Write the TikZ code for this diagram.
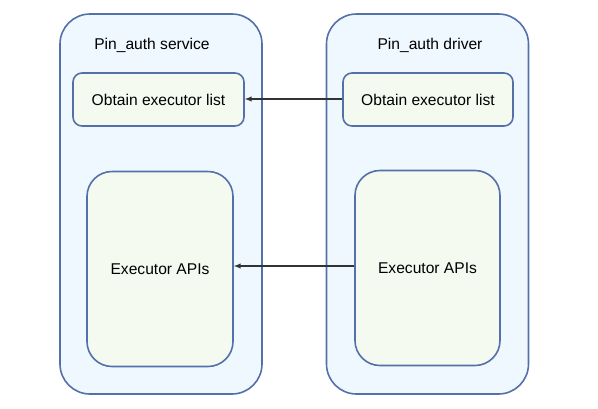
\documentclass[tikz,border=0pt]{standalone}
\usepackage{fontspec}
\setmainfont{Liberation Sans}
\usetikzlibrary{arrows}

\definecolor{boxline}{RGB}{84,112,168}
\definecolor{outerfill}{RGB}{240,248,255}
\definecolor{innerfill}{RGB}{245,250,241}

\begin{document}
\begin{tikzpicture}[x=1pt,y=-1pt]
\tikzset{
outer/.style={rectangle,rounded corners=30pt,draw=boxline, fill=outerfill,line width=1.6pt,
minimum width=202pt, minimum height=380pt},
inner/.style={rectangle,rounded corners=9pt,draw=boxline, fill=innerfill,line width=1.6pt,
minimum width=171pt, minimum height=53pt, font=\fontsize{15.6}{18}\selectfont},
apibox/.style={inner,rounded corners=25pt, minimum width=146pt, minimum height=195pt},
mylabel/.style={font=\fontsize{15.6}{18}\selectfont},
myarrow/.style={->, >=latex, line width=1.3pt, draw=black!80},
}
\useasboundingbox (0,0) rectangle (598,408);

\node [outer] (service) at (161,204) {};
\node [outer] (driver) at (427.5,204) {};
\node [mylabel] (servicelabel) at (152,45) {Pin\_auth service};
\node [mylabel] (driverlabel) at (430,45) {Pin\_auth driver};
\node [inner] (listL) at (158.5,99.5) {Obtain executor list};
\node [inner, minimum width=170pt] (listR) at (428,99.5) {Obtain executor list};
\node [apibox] (apiL) at (160,269) {Executor APIs};
\node [apibox, minimum width=145pt] (apiR) at (427.5,268) {Executor APIs};
\draw[myarrow] (listR.west |- 0,99) -- (listL.east |- 0,99);
\draw[myarrow] (apiR.west |- 0,266) -- (apiL.east |- 0,266);
\end{tikzpicture}
\end{document}
